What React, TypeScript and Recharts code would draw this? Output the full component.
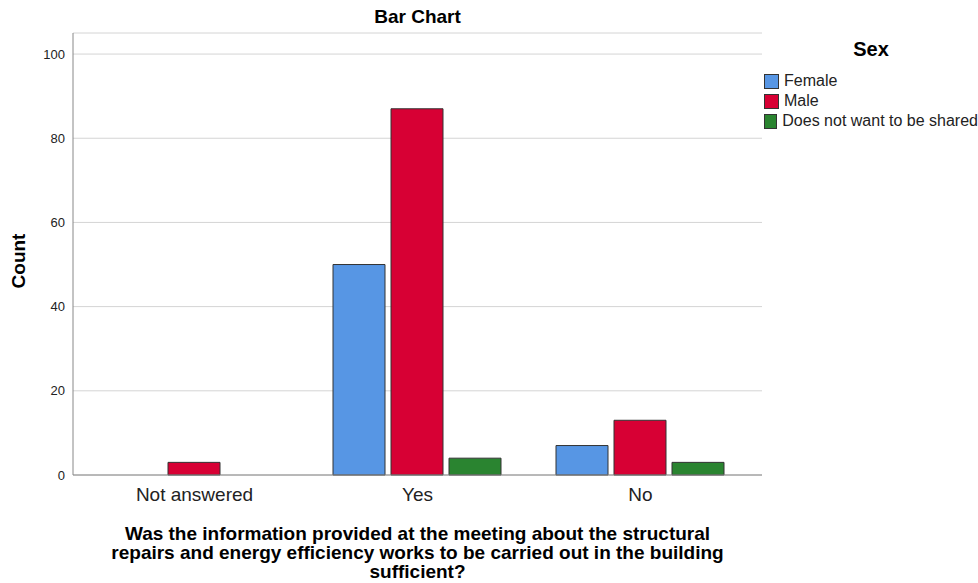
import React from 'react';
import { BarChart, Bar, XAxis, YAxis, CartesianGrid, Label } from 'recharts';

const categories = ['Not answered', 'Yes', 'No'];
const female = [0, 50, 7];
const male = [3, 87, 13];
const notShared = [0, 4, 3];
const yTicks = [0, 20, 40, 60, 80, 100];

const series = [
    { key: 'female', name: 'Female', color: '#5796E4' },
    { key: 'male', name: 'Male', color: '#D70034' },
    { key: 'notShared', name: 'Does not want to be shared', color: '#2A8430' },
];

const data = categories.map((c, i) => ({ category: c, female: female[i], male: male[i], notShared: notShared[i] }));

const FONT = '"Liberation Sans", Arial, sans-serif';

const XTitle = (props: any) => {
    const { viewBox } = props;
    const cx = viewBox.x + viewBox.width / 2;
    const lines = [
        'Was the information provided at the meeting about the structural',
        'repairs and energy efficiency works to be carried out in the building',
        'sufficient?',
    ];
    return (
        <text x={cx} y={viewBox.y + 65} textAnchor="middle" fontFamily={FONT} fontSize={19} fontWeight="bold" fill="#000">
            {lines.map((l, i) => (
                <tspan key={i} x={cx} dy={i === 0 ? 0 : 19}>{l}</tspan>
            ))}
        </text>
    );
};

const YTitle = () => (
    <text x={0} y={0} transform="translate(25, 261) rotate(-90)" textAnchor="middle" fontFamily={FONT} fontSize={19} fontWeight="bold" fill="#000">
        Count
    </text>
);

export default function App() {
    return (
        <div style={{ position: 'absolute', left: 0, top: 0, width: 978, height: 583, background: '#fff', fontFamily: FONT }}>
            <div style={{ position: 'absolute', left: 73, width: 689, top: 6, textAlign: 'center', fontSize: 19, fontWeight: 'bold', color: '#000' }}>
                Bar Chart
            </div>
            <BarChart width={978} height={583} data={data} margin={{ top: 33, right: 216, bottom: 0, left: 0 }} barCategoryGap={27} barGap={6}>
                <CartesianGrid horizontal vertical={false} stroke="#d4d4d4" />
                <XAxis
                    dataKey="category"
                    height={108}
                    padding={{ left: 10, right: 10 }}
                    axisLine={{ stroke: '#888' }}
                    tickLine={false}
                    tick={{ fontSize: 19, fill: '#222', fontFamily: FONT }}
                    tickMargin={7}
                >
                    <Label content={XTitle} />
                </XAxis>
                <YAxis
                    width={73}
                    domain={[0, 105]}
                    ticks={yTicks}
                    axisLine={{ stroke: '#888' }}
                    tickLine={false}
                    tick={{ fontSize: 13, fill: '#222', fontFamily: FONT }}
                    tickMargin={2}
                >
                    <Label content={YTitle} />
                </YAxis>
                {series.map((s) => (
                    <Bar key={s.key} dataKey={s.key} name={s.name} fill={s.color} stroke="#333" strokeWidth={1} isAnimationActive={false} />
                ))}
            </BarChart>
            <div style={{ position: 'absolute', left: 764, top: 38, width: 214 }}>
                <div style={{ textAlign: 'center', fontSize: 20, fontWeight: 'bold', color: '#000', marginBottom: 10 }}>Sex</div>
                {series.map((s) => (
                    <div key={s.key} style={{ display: 'flex', alignItems: 'center', height: 20 }}>
                        <div style={{ width: 13, height: 13, background: s.color, border: '1px solid #333', marginRight: 5 }} />
                        <span style={{ fontSize: 16, color: '#222', whiteSpace: 'nowrap' }}>{s.name}</span>
                    </div>
                ))}
            </div>
        </div>
    );
}
